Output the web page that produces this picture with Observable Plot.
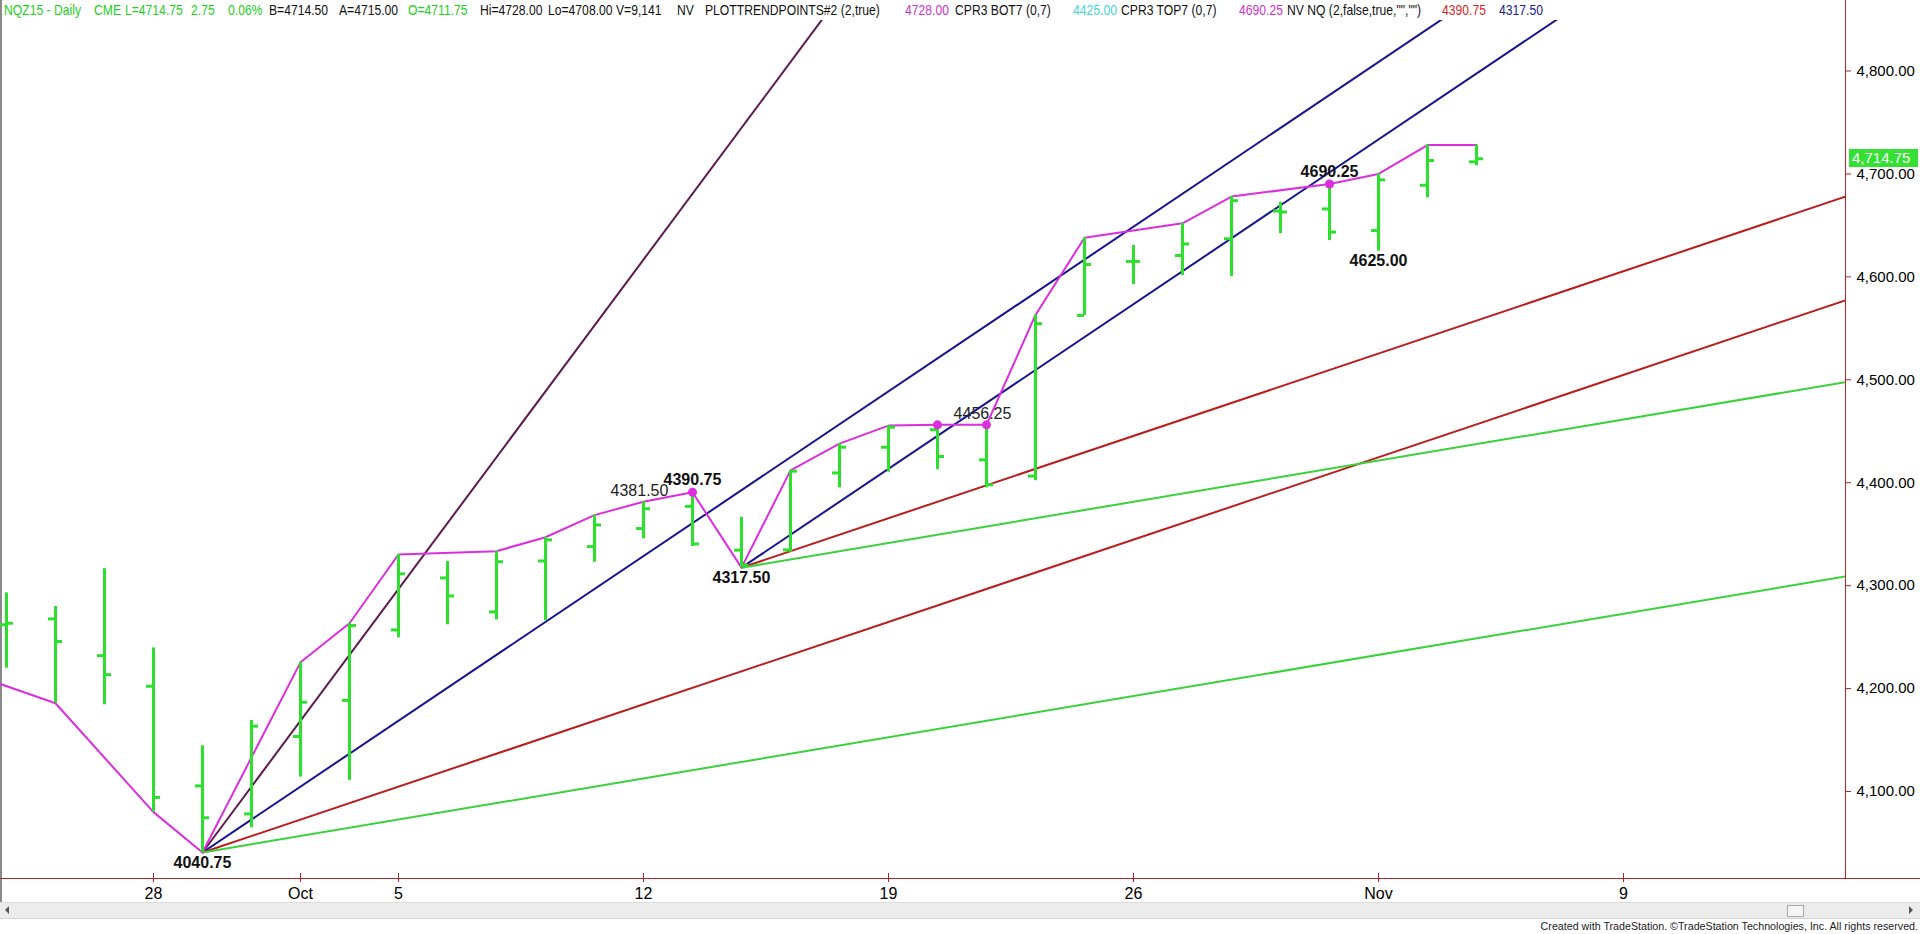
<!DOCTYPE html>
<html>
<head>
<meta charset="utf-8">
<script src="https://cdn.jsdelivr.net/npm/d3@7"></script>
<script src="https://cdn.jsdelivr.net/npm/@observablehq/plot@0.6"></script>
<style>
  html, body { margin:0; padding:0; background:#fff; width:1920px; height:934px; overflow:hidden; }
  body { position:relative; font-family:"Liberation Sans", Arial, sans-serif; }
  #header { position:absolute; left:0; top:0; width:1920px; height:20px; }
  #header span { position:absolute; top:1px; font-size:15px; line-height:17px; white-space:pre; transform:scaleX(0.81); transform-origin:0 0; }
  #chart { position:absolute; left:0; top:20px; }
  .axisline { position:absolute; background:#b02424; }
  #leftborder { position:absolute; left:0; top:0; width:2px; height:918px; background:#8a8a8a; }
  #scroll { position:absolute; left:0; top:902px; width:1920px; height:15px; background:#ececec; border-top:1px solid #dcdcdc; border-bottom:1px solid #d4d4d4; }
  #thumb { position:absolute; left:1787px; top:2px; width:15px; height:10px; background:#f6f6f6; border:1px solid #a8a8a8; }
  .arrow { position:absolute; top:3px; width:0; height:0; border-top:4px solid transparent; border-bottom:4px solid transparent; }
  #footer { position:absolute; right:2px; top:919px; font-size:10.7px; line-height:15px; color:#222; white-space:pre; }
  #pricebox { position:absolute; background:#35e035; color:#fff; font-size:15px; line-height:18px; height:18px; padding:0 0 0 3px; white-space:pre; box-sizing:border-box; }
</style>
</head>
<body>
<div id="header"></div>
<div id="leftborder"></div>
<div id="chart"></div>
<div id="scroll"><div class="arrow" style="left:5px;border-right:4px solid #555;"></div><div id="thumb"></div><div class="arrow" style="left:1909px;border-left:4px solid #555;"></div></div>
<div id="footer">Created with TradeStation. ©TradeStation Technologies, Inc. All rights reserved.</div>
<script>
// ---------- data ----------
const sessionDates = ["Sep 23","Sep 24","Sep 25","Sep 28","Sep 29","Sep 30","Oct 1","Oct 2","Oct 5","Oct 6","Oct 7","Oct 8","Oct 9","Oct 12","Oct 13","Oct 14","Oct 15","Oct 16","Oct 19","Oct 20","Oct 21","Oct 22","Oct 23","Oct 26","Oct 27","Oct 28","Oct 29","Oct 30","Nov 2","Nov 3","Nov 4"];
const sessionIndex = [-3,-2,-1,0,1,2,3,4,5,6,7,8,9,10,11,12,13,14,15,16,17,18,19,20,21,22,23,24,25,26,27];
const openVals  = [4262,4267.75,4232,4202.25,4105.5,4078.25,4153.5,4188.5,4257,4307.5,4274.5,4324,4338,4355.5,4377,4334.5,4334.75,4409.5,4434.5,4451.5,4422.25,4406.5,4562.5,4615,4620.75,4637,4664,4666,4645,4689,4711.75];
const highVals  = [4293,4279.75,4316.5,4239.5,4144.5,4169,4225.5,4263.5,4330.25,4323.5,4333.5,4347,4368.5,4381.5,4390.75,4366.5,4412,4438,4455.5,4456.25,4456.25,4563,4638,4630.5,4652,4678,4672.5,4690.25,4700,4728,4728];
const lowVals   = [4219.75,4185.75,4184.25,4080,4040.75,4064.75,4114,4110.75,4249.25,4262,4266.75,4266,4322.75,4345.5,4338,4317.5,4332.5,4395,4410.25,4412.5,4395,4402,4562.5,4592.5,4601.25,4600.25,4642,4635.25,4625,4676.75,4708];
const closeVals = [4263.5,4245.75,4213.5,4094.25,4074.5,4163.5,4186.75,4261.25,4311.5,4290,4323.25,4344.5,4359,4374.75,4340.5,4320,4411.25,4434.5,4454,4425.5,4398,4554.5,4612,4615,4632,4674,4663,4643.5,4694.25,4713,4714.75];

// swing (trend points) line
const swingIndex = [-4,-2,0,1,3,4,5,7,8,9,10,11,12,13,14,15,16,17,18,19,21,22,24,25,26,27];
const swingVals  = [4219,4185.75,4080,4040.75,4225.5,4263.5,4330.25,4333.5,4347,4368.5,4381.5,4390.75,4317.5,4412,4438,4455.5,4456.25,4456.25,4563,4638,4652,4678,4690.25,4700,4728,4728];
const pivotIndex = [11,16,17,24];
const pivotVals  = [4390.75,4456.25,4456.25,4690.25];

// price labels
const labelIndex = [1,10,11,12,17,24,25];
const labelVals  = [4040.75,4381.5,4390.75,4317.5,4456.25,4690.25,4625];
const labelSide  = ["below","above","above","below","above","above","below"];
const labelBold  = [true,false,true,true,false,true,true];

// angle (fan) lines: anchor session, anchor price, points per session
const fanFrom  = [1,1,1,1,12,12,12];
const fanBase  = [4040.75,4040.75,4040.75,4040.75,4317.5,4317.5,4317.5];
const fanRate  = [64,32,16,8,32,16,8];

// axes
const xTickIndex  = [0,3,5,10,15,20,25,30];
const xTickLabels = ["28","Oct","5","12","19","26","Nov","9"];
const yTicks = [4100,4200,4300,4400,4500,4600,4700,4800];

// header
const headerItems = [
  ["NQZ15 - Daily", "green"], ["CME", "green"], ["L=4714.75","green"], ["2.75","green"], ["0.06%","green"],
  ["B=4714.50","black"], ["A=4715.00","black"], ["O=4711.75","green"], ["Hi=4728.00","black"],
  ["Lo=4708.00","black"], ["V=9,141","black"], ["NV","black"], ["PLOTTRENDPOINTS#2 (2,true)","black"],
  ["4728.00","magenta"], ["CPR3 BOT7 (0,7)","black"], ["4425.00","cyan"], ["CPR3 TOP7 (0,7)","black"],
  ["4690.25","magenta"], ["NV NQ (2,false,true,\"\",\"\")","black"], ["4390.75","red"], ["4317.50","navy"]
];
</script>
<script>
// ---------- layout / style ----------
const headerX = [4,94,125,191,228,269,339,408,480,548,616,677,705,905,955,1073,1121,1239,1287,1442,1499];
const headerColors = {green:"#22d022", black:"#111", magenta:"#cc33cc", cyan:"#40d8d8", red:"#d42828", navy:"#202090"};
const hdr = document.getElementById("header");
headerItems.forEach(([t,c],i) => {
  const s = document.createElement("span");
  s.textContent = t; s.style.left = headerX[i] + "px"; s.style.color = headerColors[c];
  hdr.appendChild(s);
});

const W = 1920, H = 883;
const xDomain = [-3.122, 34.53];
const yDomain = [4015.5, 4849.06];
const barGreen = "#2ee02e";
const swingColor = "#dc2edc";
const axisRed = "#b02424";
const fanColors = {64:"#5c1a4e", 32:"#14148e", 16:"#bb1c1c", 8:"#3ad23a"};
const tickLen = 7 / 49; // sessions

const bars = sessionIndex.map((i,k) => ({i, date:sessionDates[k], open:openVals[k], high:highVals[k], low:lowVals[k], close:closeVals[k]}));
const swing = swingIndex.map((i,k) => ({i, v:swingVals[k]}));
const pivots = pivotIndex.map((i,k) => ({i, v:pivotVals[k]}));
const labels = labelIndex.map((i,k) => ({i, v:labelVals[k], side:labelSide[k], bold:labelBold[k]}));
const fans = fanFrom.map((f,k) => ({x1:f, y1:fanBase[k], x2:xDomain[1], y2:fanBase[k] + fanRate[k]*(xDomain[1]-f), rate:fanRate[k]}));
const fmt2 = d3.format(".2f");

const chart = Plot.plot({
  width: W, height: H,
  marginTop: 0, marginBottom: 25, marginLeft: 0, marginRight: 75,
  style: {background:"transparent", fontFamily:"'Liberation Sans', Arial, sans-serif", overflow:"visible"},
  x: {type:"linear", domain:xDomain},
  y: {type:"linear", domain:yDomain},
  marks: [
    // fan lines
    Plot.link(fans, {x1:"x1", y1:"y1", x2:"x2", y2:"y2", stroke:d => fanColors[d.rate], strokeWidth:2, clip:true}),
    // swing line
    Plot.line(swing, {x:"i", y:"v", stroke:swingColor, strokeWidth:2, clip:true}),
    // OHLC bars
    Plot.ruleX(bars, {x:"i", y1:"low", y2:"high", stroke:barGreen, strokeWidth:3, clip:true}),
    Plot.ruleY(bars, {y:"open", x1:d => d.i - tickLen, x2:"i", stroke:barGreen, strokeWidth:3, clip:true}),
    Plot.ruleY(bars, {y:"close", x1:"i", x2:d => d.i + tickLen, stroke:barGreen, strokeWidth:3, clip:true}),
    // pivot dots
    Plot.dot(pivots, {x:"i", y:"v", r:4.5, fill:swingColor, stroke:null}),
    // labels
    Plot.text(labels.filter(d => d.bold && d.side === "below"), {x:"i", y:"v", text:d => fmt2(d.v), dy:10, fontSize:16, fontWeight:"bold", fill:"#111"}),
    Plot.text(labels.filter(d => d.bold && d.side === "above"), {x:"i", y:"v", text:d => fmt2(d.v), dy:-12, fontSize:16, fontWeight:"bold", fill:"#111"}),
    Plot.text(labels.filter(d => !d.bold), {x:"i", y:"v", text:d => fmt2(d.v), dy:-11, dx:-4, fontSize:16, fill:"#222"}),
    // y axis (right)
    Plot.axisY(yTicks, {anchor:"right", tickSize:5, tickFormat:() => "", color:axisRed}),
    Plot.axisY(yTicks, {anchor:"right", tickSize:0, tickPadding:11, tickFormat:d3.format(",.2f"), fontSize:15, color:"#000"}),
    // x axis (bottom)
    Plot.tickX(xTickIndex, {x:d => d, stroke:axisRed, insetTop:H - 25 - 5}),
    Plot.axisX(xTickIndex, {anchor:"bottom", tickSize:4, tickFormat:() => "", color:axisRed}),
    Plot.axisX(xTickIndex, {anchor:"bottom", tickSize:0, tickPadding:9, tickFormat:d => xTickLabels[xTickIndex.indexOf(d)], fontSize:16, color:"#000"})
  ]
});
document.getElementById("chart").appendChild(chart);

// axis lines
const xs = chart.scale("x"), ys = chart.scale("y");
const rightX = Math.round(xs.range[1]);
const bottomY = 20 + Math.round(ys.range[0]);
const vline = document.createElement("div");
vline.className = "axisline"; Object.assign(vline.style, {left:rightX+"px", top:"0px", width:"1px", height:(bottomY+1)+"px"});
document.body.appendChild(vline);
const hline = document.createElement("div");
hline.className = "axisline"; Object.assign(hline.style, {left:"0px", top:bottomY+"px", width:W+"px", height:"1px"});
document.body.appendChild(hline);

// last price marker
const last = closeVals[closeVals.length-1];
const pb = document.createElement("div");
pb.id = "pricebox"; pb.textContent = d3.format(",.2f")(last);
Object.assign(pb.style, {left:(rightX+4)+"px", width:(W - 2 - rightX - 4)+"px", top:(20 + ys.apply(last) - 9)+"px"});
document.body.appendChild(pb);
</script>
</body>
</html>
